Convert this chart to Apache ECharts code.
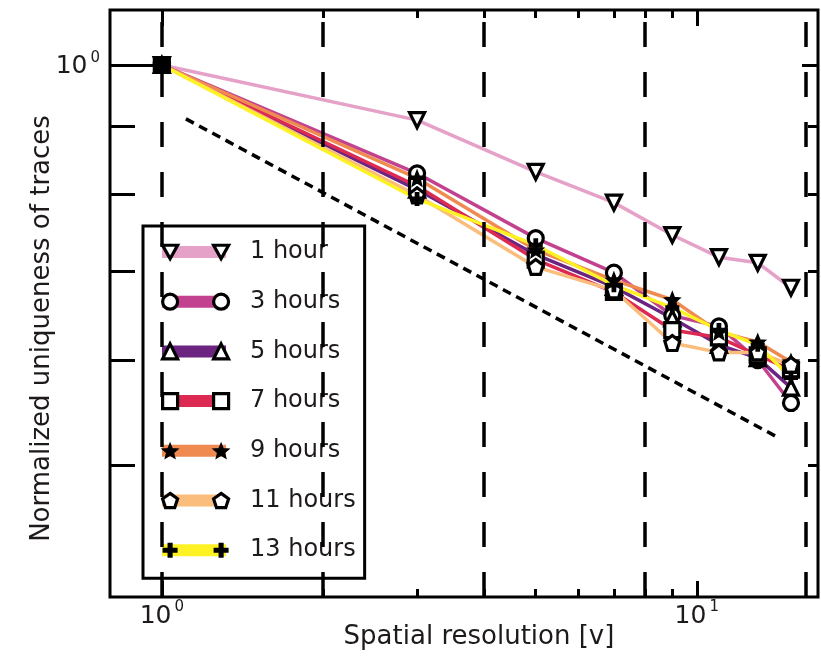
<!DOCTYPE html>
<html><head><meta charset="utf-8">
<script src="https://cdn.jsdelivr.net/npm/echarts@6/dist/echarts.min.js"></script>
<style>html,body{margin:0;padding:0;background:#fff}#c{width:821px;height:662px}</style>
</head><body><div id="c"></div>
<script>
// ---- data ----
const xValues = [1, 3, 5, 7, 9, 11, 13, 15];
const seriesNames = ['1 hour', '3 hours', '5 hours', '7 hours', '9 hours', '11 hours', '13 hours'];
const hour1  = [1, 0.909, 0.831, 0.788, 0.745, 0.717, 0.710, 0.680];
const hour3  = [1, 0.829, 0.741, 0.698, 0.648, 0.636, 0.600, 0.557];
const hour5  = [1, 0.806, 0.720, 0.681, 0.645, 0.616, 0.602, 0.572];
const hour7  = [1, 0.811, 0.714, 0.675, 0.632, 0.624, 0.605, 0.590];
const hour9  = [1, 0.822, 0.726, 0.689, 0.666, 0.630, 0.619, 0.598];
const hour11 = [1, 0.798, 0.705, 0.677, 0.618, 0.608, 0.608, 0.595];
const hour13 = [1, 0.793, 0.732, 0.683, 0.657, 0.632, 0.616, 0.582];
const refLineX = [1.109, 14.03];
const refLineY = [0.911, 0.526];
const dashedX = [1, 2, 4, 8, 16];
const xMajorTicks = [1, 10];
const xMinorTicks = [2, 3, 4, 5, 6, 7, 8, 9];
const yMajorTicks = [1];
const yMinorTicks = [0.5, 0.6, 0.7, 0.8, 0.9];
const xTitle = 'Spatial resolution [v]';
const yTitle = 'Normalized uniqueness of traces';

// ---- style ----
const allValues = [hour1, hour3, hour5, hour7, hour9, hour11, hour13];
const colors = ['#e5a1c8', '#c2428f', '#6b2580', '#dc2a52', '#ef8a50', '#fbbd7b', '#fff224'];
const STAR = 'path://M5,0L6.293,3.22L9.755,3.455L7.092,5.68L7.939,9.045L5,7.2L2.061,9.045L2.908,5.68L0.245,3.455L3.707,3.22Z';
const PENT = 'path://M5,0L9.755,3.455L7.939,9.045L2.061,9.045L0.245,3.455Z';
const PLUS = 'path://M3.3,0H6.7V3.3H10V6.7H6.7V10H3.3V6.7H0V3.3H3.3Z';
const TRIDOWN = 'path://M0,0L10,0L5,9Z';
const symbols = [TRIDOWN, 'circle', 'triangle', 'rect', STAR, PENT, PLUS];
const FONT = 'DejaVu Sans';
const TXT = '#1e1a1b';
const XMIN = 0.8, XMAX = 16.85, YMIN = 0.3981, YMAX = 1.0999;

function markerStyle(i) {
  if (i === 6) return {color: '#000', borderWidth: 0};
  if (i === 4) return {color: '#000', borderColor: '#000', borderWidth: 1.5};
  return {color: '#fff', borderColor: '#000', borderWidth: 3.2};
}
const labelRich = {
  b: {fontFamily: FONT, fontSize: 25, color: TXT, padding: [4, 0, 0, 0]},
  s: {fontFamily: FONT, fontSize: 15, color: TXT, verticalAlign: 'top', padding: [0, 0, 0, 3]}
};
function powLabel(v) { return '{b|10}{s|' + Math.round(Math.log10(v)) + '}'; }

function xAx(pos, ticks, len, withLabel) {
  const a = {
    type: 'log', logBase: 10, min: XMIN, max: XMAX, position: pos,
    axisLine: {show: false}, splitLine: {show: false}, minorTick: {show: false},
    axisTick: {show: true, inside: true, length: len, customValues: ticks, lineStyle: {color: '#000', width: 3}},
    axisLabel: {show: false}
  };
  if (withLabel) {
    a.axisLabel = {show: true, customValues: xMajorTicks, formatter: powLabel, rich: labelRich, margin: 3};
    a.name = xTitle; a.nameLocation = 'middle'; a.nameGap = 27; a.nameMoveOverlap = false;
    a.nameTextStyle = {fontFamily: FONT, fontSize: 26, color: TXT, padding: [0, 0, 0, 30]};
  }
  return a;
}
function yAx(pos, ticks, len, withLabel) {
  const a = {
    type: 'log', logBase: 10, min: YMIN, max: YMAX, position: pos,
    axisLine: {show: false}, splitLine: {show: false}, minorTick: {show: false},
    axisTick: {show: true, inside: true, length: len, customValues: ticks, lineStyle: {color: '#000', width: 3}},
    axisLabel: {show: false}
  };
  if (withLabel) {
    a.axisLabel = {show: true, customValues: yMajorTicks, formatter: powLabel, rich: labelRich, margin: 10};
    a.name = yTitle; a.nameLocation = 'middle'; a.nameGap = 55; a.nameMoveOverlap = false;
    a.nameTextStyle = {fontFamily: FONT, fontSize: 26, color: TXT, padding: [0, 50, 0, 0]};
  }
  return a;
}

const series = [{
  name: 'ref', type: 'line', xAxisIndex: 0, yAxisIndex: 0,
  data: refLineX.map((x, i) => [x, refLineY[i]]),
  symbol: 'none', silent: true,
  lineStyle: {color: '#000', width: 3.5, type: [9, 6]},
  markLine: {
    silent: true, symbol: ['none', 'none'], label: {show: false},
    lineStyle: {color: '#000', width: 3.5, type: [25, 25]},
    data: dashedX.map(v => ({xAxis: v}))
  }
}];
seriesNames.forEach((n, i) => {
  series.push({
    name: n, type: 'line', xAxisIndex: 0, yAxisIndex: 0,
    data: xValues.map((x, j) => j === 0
      ? {value: [x, allValues[i][j]], itemStyle: {color: '#000'}}
      : [x, allValues[i][j]]),
    symbol: symbols[i], symbolSize: i === 6 ? 14 : 15, showAllSymbol: true,
    lineStyle: {color: colors[i], width: 3.5},
    itemStyle: markerStyle(i),
    emphasis: {disabled: true}
  });
});

const legendCommon = {
  orient: 'vertical', itemGap: 19.7, selectedMode: false,
  textStyle: {fontFamily: FONT, fontSize: 24, lineHeight: 30, color: TXT}
};
const option = {
  animation: false,
  backgroundColor: '#fff',
  grid: {left: 110, top: 10, right: 3, bottom: 65, show: true, borderColor: '#000', borderWidth: 3,
         backgroundColor: 'transparent', containLabel: false, outerBoundsMode: 'none'},
  xAxis: [xAx('bottom', xMajorTicks, 16, true), xAx('bottom', xMinorTicks, 8, false),
          xAx('top', xMajorTicks, 16, false), xAx('top', xMinorTicks, 8, false)],
  yAxis: [yAx('left', yMajorTicks, 46, true), yAx('left', yMinorTicks, 25, false),
          yAx('right', yMajorTicks, 16, false), yAx('right', yMinorTicks, 10, false)],
  legend: [
    Object.assign({}, legendCommon, {
      left: 143, top: 226, padding: [11, 9, 13, 19], z: 4,
      backgroundColor: '#fff', borderColor: '#000', borderWidth: 3,
      itemWidth: 64, itemHeight: 12, icon: 'rect',
      textStyle: Object.assign({}, legendCommon.textStyle, {padding: [0, 0, 0, 19]}),
      data: seriesNames.map((n, i) => ({name: n, itemStyle: {color: colors[i], borderWidth: 0}}))
    }),
    Object.assign({}, legendCommon, {
      left: 161, top: 237, padding: 0, z: 5, itemWidth: 15, itemHeight: 15,
      formatter: () => ' ',
      data: seriesNames.map((n, i) => ({name: n, icon: symbols[i], itemStyle: markerStyle(i)}))
    }),
    Object.assign({}, legendCommon, {
      left: 212, top: 237, padding: 0, z: 5, itemWidth: 15, itemHeight: 15,
      formatter: () => ' ',
      data: seriesNames.map((n, i) => ({name: n, icon: symbols[i], itemStyle: markerStyle(i)}))
    })
  ],
  series: series
};
const chart = echarts.init(document.getElementById('c'), null, {renderer: 'canvas'});
chart.setOption(option);
</script>
</body></html>
